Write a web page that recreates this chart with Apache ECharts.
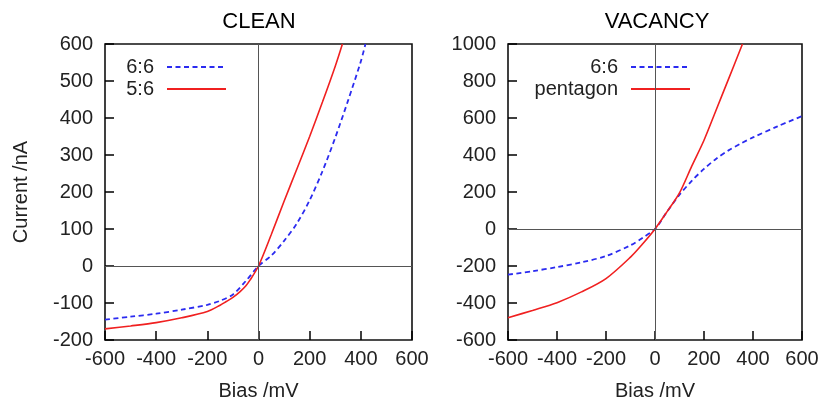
<!DOCTYPE html>
<html>
<head>
<meta charset="utf-8">
<script src="https://cdn.jsdelivr.net/npm/echarts@6/dist/echarts.min.js"></script>
<style>html,body{margin:0;padding:0;background:#fff}#c{width:824px;height:406px}</style>
</head>
<body>
<div id="c"></div>
<script>
// CLEAN panel
const cleanBias66 = [-600,-500,-400,-300,-200,-150,-100,-50,0,50,100,150,200,250,300,350,400,418];
const cleanCur66  = [-145,-137,-129,-118,-105,-94,-77,-41,0,28,68,115,178,256,347,447,553,600];
const cleanBias56 = [-600,-500,-400,-300,-200,-150,-126,-100,-73,-50,-34,0,50,100,150,200,250,300,328];
const cleanCur56  = [-170,-162,-153,-140,-123,-106,-96,-85,-70,-54,-39,0,85,175,262,350,443,540,600];
// VACANCY panel
const vacBias66 = [-600,-500,-400,-300,-200,-100,-50,0,50,100,150,200,250,300,350,400,500,600];
const vacCur66  = [-247,-228,-206,-180,-146,-88,-47,0,95,185,260,325,380,425,462,495,555,610];
const vacBiasPent = [-600,-500,-400,-300,-200,-100,-50,0,50,100,150,200,250,300,357];
const vacCurPent  = [-480,-440,-398,-340,-268,-152,-80,0,95,195,340,480,645,810,1000];

const titles = ['CLEAN','VACANCY'];
const xName = 'Bias /mV';
const yName = 'Current /nA';

const zip = (a,b) => a.map((v,i)=>[v,b[i]]);
const FONT = 'Liberation Sans, Arial, sans-serif';
const BLUE = '#2b2bf0', RED = '#f02020';

function axisCommon(margin){
  return {
    axisLine:{show:false, onZero:false},
    axisTick:{show:true, inside:true, length:9, lineStyle:{color:'#000', width:1.5}},
    splitLine:{show:false},
    axisLabel:{color:'#222', fontSize:20, fontFamily:FONT, margin:margin, formatter:v=>String(v)}
  };
}
const zeroLines = {
  silent:true, symbol:['none','none'], label:{show:false},
  lineStyle:{color:'#555', type:'solid', width:1},
  emphasis:{disabled:true},
  data:[{xAxis:0},{yAxis:0}]
};
const nameStyle = {fontSize:20, color:'#222', fontFamily:FONT};

function legend(name, right, top){
  return {data:[name], right:right, top:top, orient:'vertical', align:'right', padding:0,
    itemWidth:59, itemHeight:14, itemStyle:{opacity:0},
    textStyle:{fontSize:20, color:'#222', fontFamily:FONT, padding:[0,8,0,0]}};
}

const chart = echarts.init(document.getElementById('c'));
chart.setOption({
  animation:false,
  grid:[
    {left:105, right:412, top:44, bottom:62, show:true, borderColor:'#111', borderWidth:1.6, backgroundColor:'transparent'},
    {left:508, right:22, top:44, bottom:62, show:true, borderColor:'#111', borderWidth:1.6, backgroundColor:'transparent'}
  ],
  xAxis:[
    Object.assign({type:'value', gridIndex:0, min:-600, max:600, interval:200,
      name:xName, nameLocation:'middle', nameGap:41, nameTextStyle:nameStyle}, axisCommon(9)),
    Object.assign({type:'value', gridIndex:1, min:-600, max:600, interval:200,
      name:xName, nameLocation:'middle', nameGap:41, nameTextStyle:nameStyle}, axisCommon(9))
  ],
  yAxis:[
    Object.assign({type:'value', gridIndex:0, min:-200, max:600, interval:100,
      name:yName, nameLocation:'middle', nameGap:74, nameRotate:90, nameTextStyle:nameStyle}, axisCommon(12)),
    Object.assign({type:'value', gridIndex:1, min:-600, max:1000, interval:200}, axisCommon(12))
  ],
  legend:[
    legend('6:6', 597, 57),
    legend('5:6', 597, 79),
    legend('6:6', 133, 57),
    legend('pentagon', 133, 79)
  ],
  graphic:[
    {type:'text', x:259, y:22, style:{text:titles[0], fontSize:22, fontFamily:FONT, fill:'#000', align:'center', verticalAlign:'middle'}},
    {type:'text', x:657, y:22, style:{text:titles[1], fontSize:22, fontFamily:FONT, fill:'#000', align:'center', verticalAlign:'middle'}}
  ],
  series:[
    {name:'6:6', type:'line', xAxisIndex:0, yAxisIndex:0, data:zip(cleanBias66, cleanCur66),
      symbol:'none', smooth:0.3, clip:true,
      lineStyle:{color:BLUE, width:1.8, type:[5,3.5]}, itemStyle:{color:BLUE}, markLine:zeroLines, z:3},
    {name:'5:6', type:'line', xAxisIndex:0, yAxisIndex:0, data:zip(cleanBias56, cleanCur56),
      symbol:'none', smooth:0.3, clip:true,
      lineStyle:{color:RED, width:1.6}, itemStyle:{color:RED}, z:3},
    {name:'6:6', type:'line', xAxisIndex:1, yAxisIndex:1, data:zip(vacBias66, vacCur66),
      symbol:'none', smooth:0.3, clip:true,
      lineStyle:{color:BLUE, width:1.8, type:[5,3.5]}, itemStyle:{color:BLUE}, markLine:zeroLines, z:3},
    {name:'pentagon', type:'line', xAxisIndex:1, yAxisIndex:1, data:zip(vacBiasPent, vacCurPent),
      symbol:'none', smooth:0.3, clip:true,
      lineStyle:{color:RED, width:1.6}, itemStyle:{color:RED}, z:3}
  ]
});
</script>
</body>
</html>
